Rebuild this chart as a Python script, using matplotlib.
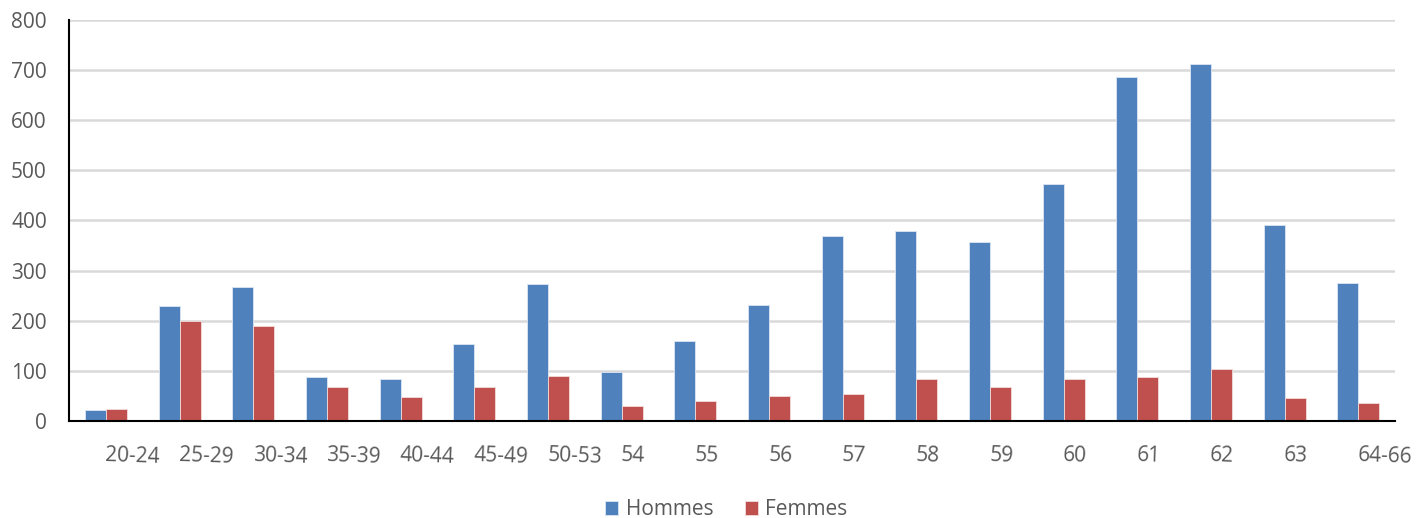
import matplotlib
matplotlib.use("Agg")
import matplotlib.pyplot as plt
import numpy as np

categories = ["20-24", "25-29", "30-34", "35-39", "40-44", "45-49", "50-53", "54", "55",
              "56", "57", "58", "59", "60", "61", "62", "63", "64-66"]
hommes = [21, 229, 267, 88, 83, 153, 273, 97, 160, 231, 370, 380, 358, 473, 686, 712, 390, 275]
femmes = [23, 200, 189, 68, 47, 68, 90, 29, 40, 49, 53, 83, 67, 83, 88, 104, 46, 35]

plt.rcParams["font.family"] = ["Open Sans", "DejaVu Sans"]

fig = plt.figure(figsize=(14.17, 5.18), dpi=100, facecolor="white")
ax = fig.add_axes([0.0487, 0.1873, 0.9358, 0.7741])

x = np.arange(len(categories))
w = 0.285
ax.bar(x - w / 2, hommes, w, color="#4F81BD", edgecolor="#DCE6F2", linewidth=0.6, label="Hommes", zorder=3)
ax.bar(x + w / 2, femmes, w, color="#C0504D", edgecolor="#F2DCDB", linewidth=0.6, label="Femmes", zorder=3)

ax.set_xlim(-0.5, len(categories) - 0.5)
ax.set_ylim(0, 800)
ax.set_yticks(range(0, 801, 100))
ax.yaxis.grid(True, color="#D9D9D9", linewidth=1.8, zorder=0)
ax.set_axisbelow(True)

ax.set_xticks(x)
ax.set_xticklabels(categories, ha="left", rotation=-2, rotation_mode="anchor")
ax.tick_params(axis="x", length=0, pad=17, labelsize=15, labelcolor="#595959")
ax.tick_params(axis="y", length=0, pad=16, labelsize=15, labelcolor="#595959")

for s in ["top", "right"]:
    ax.spines[s].set_visible(False)
ax.spines["left"].set_color("black")
ax.spines["left"].set_linewidth(1.5)
ax.spines["bottom"].set_color("black")
ax.spines["bottom"].set_linewidth(1.5)
ax.spines["bottom"].set_zorder(4)

leg = fig.legend(loc="center", bbox_to_anchor=(0.5125, 0.0165), ncol=2, frameon=False,
                 fontsize=15, handlelength=0.65, handleheight=0.65, handletextpad=0.35,
                 columnspacing=1.5)
for t in leg.get_texts():
    t.set_color("#595959")

fig.savefig("out.png", dpi=100, facecolor="white")
